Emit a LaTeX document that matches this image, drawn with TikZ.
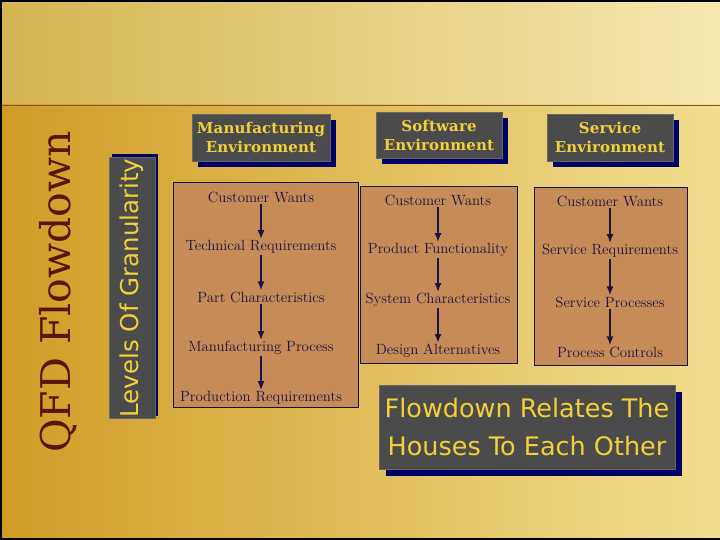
\documentclass[tikz,border=0pt]{standalone}
\usepackage{fontspec}
\usepackage{xcolor}
\usetikzlibrary{arrows.meta,shadows}

\newfontfamily\headfont[LetterSpace=1]{DejaVu Serif}
\newfontfamily\titlefont{DejaVu Serif}
\newfontfamily\labelfont{DejaVu Sans}

\definecolor{slate}{HTML}{4B4B4B}
\definecolor{navyshade}{HTML}{000066}
\definecolor{gold}{HTML}{F2D03A}
\definecolor{housebrown}{HTML}{C68B57}
\definecolor{inkblue}{HTML}{1A1240}
\definecolor{rust}{HTML}{5A1408}
\definecolor{topleft}{HTML}{D6B452}
\definecolor{topright}{HTML}{F5E9B0}
\definecolor{botleft}{HTML}{D09C25}
\definecolor{botmid}{HTML}{E2BC4A}
\definecolor{botright}{HTML}{F2DE90}

\begin{document}
\begin{tikzpicture}[x=1pt,y=-1pt,
    label box/.style={fill=slate, draw=black!60, text=gold, align=center, inner sep=0pt},
    hdr/.style={label box, minimum height=47pt, font=\headfont\bfseries\fontsize{15}{19}\selectfont,
        drop shadow={shadow xshift=6pt, shadow yshift=-6pt, fill=navyshade, opacity=1}},
    house/.style={fill=housebrown, draw=inkblue, line width=1pt},
    item/.style={text=inkblue, inner sep=1pt, font=\fontsize{14.8}{16}\selectfont},
    flow/.style={draw=inkblue, line width=2.4pt, -{Latex[length=9pt,width=7pt]}}]
    		\useasboundingbox (0,0) rectangle (720,540);
    		% background
    		\shade[left color=topleft, right color=topright] (0,0) rectangle (720,105);
    		\shade[left color=botleft, middle color=botmid, right color=botright] (0,105) rectangle (720,540);
    		\draw[brown!70!black] (0,105) -- (720,105);
    		
    		% side titles
    		\node[rotate=90, text=rust, font=\titlefont\fontsize{41}{41}\selectfont] (qfd) at (58,292) {QFD Flowdown};
    		\node[label box, rotate=90, minimum width=261pt, minimum height=46pt, font=\labelfont\fontsize{24.5}{24}\selectfont,
    		    drop shadow={shadow xshift=3pt, shadow yshift=3pt, fill=navyshade, opacity=1}] (levels) at (132,288) {Levels Of Granularity};
    		
    		% environment headers
    		\node[hdr, minimum width=138pt] (mfghead) at (261,137.5) {Manufacturing\\Environment};
    		\node[hdr, minimum width=126pt, minimum height=46pt] (swhead) at (439,135) {Software\\Environment};
    		\node[hdr, minimum width=126pt] (svchead) at (610,137.5) {Service\\Environment};
    		
    		% houses
    		\draw[house] (173,183) rectangle (358,407);
    		\draw[house] (360,187) rectangle (517,363);
    		\draw[house] (534,188) rectangle (687,365);
    		
    		\node[item] (m1) at (261,197) {Customer Wants};
    		\node[item] (m2) at (261,247) {Technical Requirements};
    		\node[item] (m3) at (261,297) {Part Characteristics};
    		\node[item] (m4) at (261,348) {Manufacturing Process};
    		\node[item] (m5) at (261,398) {Production Requirements};
    		
    		\node[item] (s1) at (438,200) {Customer Wants};
    		\node[item] (s2) at (438,250) {Product Functionality};
    		\node[item] (s3) at (438,300) {System Characteristics};
    		\node[item] (s4) at (438,351) {Design Alternatives};
    		
    		\node[item] (v1) at (610,201) {Customer Wants};
    		\node[item] (v2) at (610,251) {Service Requirements};
    		\node[item] (v3) at (610,302) {Service Processes};
    		\node[item] (v4) at (610,352) {Process Controls};
    		
    		\draw[flow] (m1) -- (m2);
    		\draw[flow] (m2) -- (m3);
    		\draw[flow] (m3) -- (m4);
    		\draw[flow] (m4) -- (m5);
    		\draw[flow] (s1) -- (s2);
    		\draw[flow] (s2) -- (s3);
    		\draw[flow] (s3) -- (s4);
    		\draw[flow] (v1) -- (v2);
    		\draw[flow] (v2) -- (v3);
    		\draw[flow] (v3) -- (v4);
    		
    		% summary
    		\node[label box, minimum width=296pt, minimum height=84pt, font=\labelfont\fontsize{25.5}{38}\selectfont,
    		    drop shadow={shadow xshift=7pt, shadow yshift=-7pt, fill=navyshade, opacity=1}] (relates) at (527,427) {Flowdown Relates The\\Houses To Each Other};
    		
    		\draw[line width=4pt] (720,0) -- (0,0) -- (0,540) -- (720,540);
    	\end{tikzpicture}
\end{document}
